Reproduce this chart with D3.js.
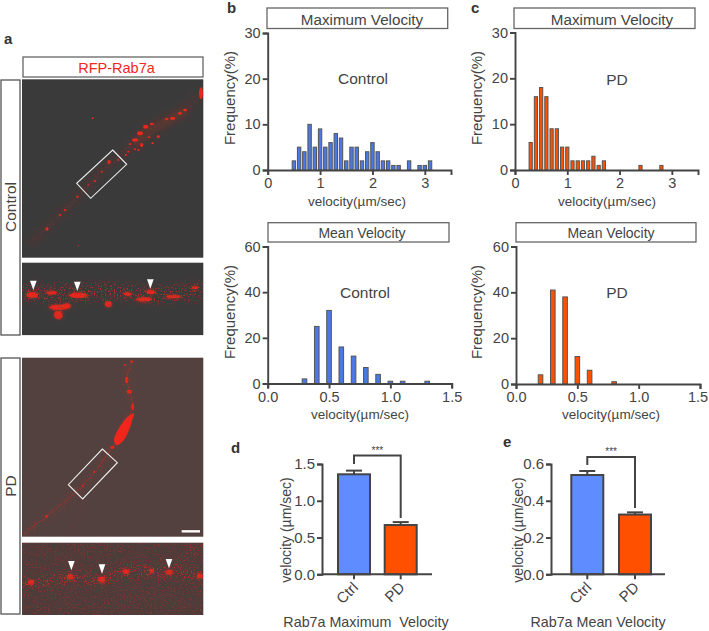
<!DOCTYPE html>
<html><head><meta charset="utf-8">
<script src="https://cdn.jsdelivr.net/npm/d3@7"></script>
<style>
html,body{margin:0;padding:0;background:#fff}
svg{display:block}
text{font-family:"Liberation Sans",Arial,sans-serif;fill:#444;white-space:pre}
</style></head><body>
<svg id="c" width="709" height="631"></svg>
<script>
// histogram bins
const maxCtrlBins=[0.5,0.6,0.7,0.8,0.9,1.0,1.1,1.2,1.3,1.4,1.5,1.6,1.7,1.8,1.9,2.0,2.1,2.2,2.3,2.4,2.5,2.7,2.9,3.0,3.1];
const maxCtrlFreq=[2,5,4,10,5,9,5,6,8,7,2,5,5,2,4,6,4,2,2,1,1,2,1,1,2];
const maxPdBins=[0.3,0.4,0.5,0.6,0.7,0.8,0.9,1.0,1.1,1.2,1.3,1.4,1.5,1.6,1.7,2.4,2.8];
const maxPdFreq=[6,16,18,16,9,9,5,5,2,2,2,2,3,1,2,1,1];
const meanCtrlBins=[0.3,0.4,0.5,0.6,0.7,0.8,0.9,1.0,1.1,1.3];
const meanCtrlFreq=[2,25,32,16,12,7,4,1,1,1];
const meanPdBins=[0.2,0.3,0.4,0.5,0.6,0.8];
const meanPdFreq=[4,41,38,12,6,1];
// summary bars
const groups=["Ctrl","PD"];
const maxMeans=[1.36,0.67];
const maxErrs=[0.05,0.04];
const meanMeans=[0.54,0.325];
const meanErrs=[0.022,0.012];
// tick labels
const maxXTicks=[0,1,2,3];
const maxYTicks=[0,10,20,30];
const meanXTicks=[0,0.5,1.0,1.5];
const meanYTicks=[0,20,40,60];
// micrograph features, in 3x crop units of the panel column: [x,y,rx,ry]
const ctrlPuncta=[[603,220,6,18],[555,270,6,4],[540,280,6,4],[518,295,8,5],[500,297,5,4],[455,312,6,4],[437,320,8,6],[420,340,9,6],[405,360,9,5],[390,372,4,3],[475,350,5,4],[447,352,4,3],[458,370,4,3],[425,375,5,6],[415,390,4,3],[405,388,3,3],[385,395,3,3],[378,405,3,3],[355,420,3,3],[327,426,5,6],[305,455,3,3],[285,483,4,3],[265,495,3,2],[232,530,4,3],[195,570,4,3],[180,585,4,3],[141,627,5,5],[278,295,3,3],[235,677,2,2]];
const ctrlProcess=[[600,215],[560,265],[500,300],[440,330],[390,385],[330,430],[270,490],[200,565],[140,625],[90,670]];
const ctrlCloud=[[560,270],[500,305],[440,340],[400,375]];
const ctrlDetail=[[97,825,18,9],[155,818,16,5],[235,826,28,8],[175,862,28,8],[175,885,13,12],[200,858,12,8],[325,852,10,9],[383,822,12,5],[432,838,25,6],[452,816,13,6],[585,803,10,4],[520,830,22,5]];
const ctrlBand=[[66,815],[200,820],[350,815],[460,825],[610,810]];
const ctrlArrows=[[100,782],[232,785],[451,778]];
const ctrlBox=[[338,390],[380,433],[272,535],[230,490]];
const pdProcess=[[397,60],[380,120],[390,160],[398,200],[380,250],[360,290],[337,322],[285,395],[245,440],[200,480],[140,530],[105,555],[70,585]];
const pdBranch=[[250,480],[225,550],[215,590]];
const pdBody=[[402,220],[385,228],[355,268],[342,300],[350,316],[370,302],[387,270],[397,240]];
const pdPuncta=[[380,120,5,10],[388,155,8,6],[398,200,4,10],[337,322,6,5],[140,529,4,4],[283,396,3,3],[248,438,3,3],[300,378,2,2],[395,65,4,4],[375,75,3,3]];
const pdDetail=[[93,727,9,8],[211,710,9,8],[305,719,10,9],[378,695,9,7],[455,692,8,6],[508,697,10,7],[600,708,9,7]];
const pdBand=[[66,745],[95,728],[150,725],[210,712],[305,718],[380,695],[455,692],[510,695],[610,708]];
const pdBand2=[[510,695],[560,645],[610,615]];
const pdArrows=[[214,663],[306,673],[507,657]];
const pdBox=[[307,327],[352,368],[248,477],[205,434]];
const pdScaleBar=[[545,574],[600,574]];

const INK="#444", BLUE="#4a79e6", ORANGE="#ff5000";
const svg=d3.select("#c");
const defs=svg.append("defs");
function region(id){return defs.append("filter").attr("id",id).attr("filterUnits","userSpaceOnUse").attr("x",0).attr("y",0).attr("width",709).attr("height",631);}
function blur(id,s){region(id).append("feGaussianBlur").attr("stdDeviation",s);}
blur("b1",0.7);blur("b3",3);
// grainy filter: blurred shape cut through a thresholded noise field
function grain(id,s,offset){
  const f=region(id);
  f.append("feGaussianBlur").attr("in","SourceGraphic").attr("stdDeviation",s).attr("result","g");
  f.append("feTurbulence").attr("type","fractalNoise").attr("baseFrequency",0.7).attr("numOctaves",2).attr("seed",4).attr("result","n");
  f.append("feColorMatrix").attr("in","n").attr("type","matrix").attr("values",`0 0 0 0 0 0 0 0 0 0 0 0 0 0 0 0 0 0 8 ${offset}`).attr("result","m");
  f.append("feComposite").attr("in","g").attr("in2","m").attr("operator","in");
}
grain("sparse",3,-4.4);grain("dense",1.5,-2.8);grain("flat",0,-4.6);

function box(x0,y0,x1,y1,stroke){svg.append("rect").attr("x",x0).attr("y",y0).attr("width",x1-x0).attr("height",y1-y0).attr("fill","#fff").attr("stroke",stroke||"#666").attr("stroke-width",1.3);}
function label(t,x,y,size,o={}){
  const s=svg.append("text").attr("x",x).attr("y",y).attr("font-size",size).attr("text-anchor",o.anchor||"middle").text(t);
  if(o.bold)s.attr("font-weight","bold").style("fill","#333");
  if(o.rot!=null)s.attr("transform",`rotate(${o.rot} ${x} ${y})`);
  if(o.fill)s.style("fill",o.fill);
  return s;
}
function styleAxis(g,w,fs){
  g.selectAll("path").attr("stroke",INK).attr("stroke-width",w).attr("fill","none");
  g.selectAll("line").attr("stroke",INK).attr("stroke-width",w);
  g.selectAll("text").attr("font-size",fs).style("fill",INK).attr("font-family",'"Liberation Sans",Arial,sans-serif');
}
function hist(cfg){
  const x=d3.scaleLinear().domain(cfg.xd).range(cfg.xr);
  const y=d3.scaleLinear().domain(cfg.yd).range(cfg.yr);
  const g=svg.append("g");
  g.selectAll("rect").data(cfg.bins).join("rect")
    .attr("x",d=>x(d)-cfg.bw/2).attr("width",cfg.bw)
    .attr("y",(d,i)=>y(cfg.freq[i])).attr("height",(d,i)=>y(0)-y(cfg.freq[i]))
    .attr("fill",cfg.color).attr("stroke","#555").attr("stroke-width",1);
  const ax=svg.append("g").attr("transform",`translate(0,${cfg.yr[0]})`)
    .call(d3.axisBottom(x).tickValues(cfg.xt).tickSizeOuter(0).tickSize(5).tickPadding(3).tickFormat(cfg.xf));
  styleAxis(ax,1.9,14.5);
  if(cfg.lastDx)ax.selectAll("text").filter((d,i,n)=>i===n.length-1).attr("dx",cfg.lastDx);
  const ay=svg.append("g").attr("transform",`translate(${cfg.xr[0]},0)`)
    .call(d3.axisLeft(y).tickValues(cfg.yt).tickSizeOuter(0).tickSize(5).tickPadding(2));
  styleAxis(ay,1.9,14.5);
}
const f0=d3.format("d"),f1=d3.format(".1f");
hist({bins:maxCtrlBins,freq:maxCtrlFreq,xd:[0,3.5],xr:[267.7,451],yd:[0,30],yr:[170,33],bw:3.4,color:BLUE,xt:maxXTicks,yt:maxYTicks,xf:f0});
hist({bins:maxPdBins,freq:maxPdFreq,xd:[0,3.5],xr:[515,698],yd:[0,30],yr:[170,32.5],bw:3.2,color:ORANGE,xt:maxXTicks,yt:maxYTicks,xf:f0});
hist({bins:meanCtrlBins,freq:meanCtrlFreq,xd:[0,1.5],xr:[267.7,451.7],yd:[0,60],yr:[383.5,246.5],bw:4.6,color:BLUE,xt:meanXTicks,yt:meanYTicks,xf:f1});
hist({bins:meanPdBins,freq:meanPdFreq,xd:[0,1.5],xr:[516,700],yd:[0,60],yr:[384,246.5],bw:4.6,color:ORANGE,xt:meanXTicks,yt:meanYTicks,xf:f1,lastDx:-2.5});

// title boxes
box(267,8,447.7,28.5);label("Maximum Velocity",362,25,15.2);
box(514,8,695,28.5);label("Maximum Velocity",612,25,15.2);
box(268,222.7,449,242);label("Mean Velocity",362,237.5,14);
box(516,222.7,696,242);label("Mean Velocity",611,237.5,14);
label("Control",363,84,15.5);label("PD",617,85,15.5);
label("Control",365,298,15.5);label("PD",617,298,15.5);
[[235,98],[482,98],[235,312],[482,312]].forEach(p=>label("Frequency(%)",p[0],p[1],15,{rot:-90}));
label("velocity(µm/sec)",357,206,13.5);label("velocity(µm/sec)",607,206,13.5);
label("velocity(µm/sec)",360,419,13.5);label("velocity(µm/sec)",611,419,13.5);

function summary(cfg){
  const x=d3.scalePoint().domain(groups).range(cfg.cx);
  const y=d3.scaleLinear().domain(cfg.yd).range([574.3,464]);
  const w=32;
  const g=svg.append("g");
  const colors=["#5f8cff",ORANGE];
  groups.forEach((k,i)=>{
    g.append("line").attr("x1",x(k)).attr("x2",x(k)).attr("y1",y(cfg.m[i])).attr("y2",y(cfg.m[i]+cfg.e[i])).attr("stroke",INK).attr("stroke-width",2);
    g.append("line").attr("x1",x(k)-8).attr("x2",x(k)+8).attr("y1",y(cfg.m[i]+cfg.e[i])).attr("y2",y(cfg.m[i]+cfg.e[i])).attr("stroke",INK).attr("stroke-width",2);
    g.append("rect").attr("x",x(k)-w/2).attr("width",w).attr("y",y(cfg.m[i])).attr("height",y(0)-y(cfg.m[i])).attr("fill",colors[i]).attr("stroke",INK).attr("stroke-width",2);
  });
  const ay=svg.append("g").attr("transform",`translate(${cfg.ax},0)`)
    .call(d3.axisLeft(y).tickValues(cfg.yt).tickSizeOuter(0).tickSize(5).tickPadding(2).tickFormat(f1));
  styleAxis(ay,2,15);
  const xs=svg.append("g");
  xs.append("line").attr("x1",cfg.ax).attr("x2",cfg.end).attr("y1",y(0)).attr("y2",y(0)).attr("stroke",INK).attr("stroke-width",2);
  groups.forEach(k=>{
    xs.append("line").attr("x1",x(k)).attr("x2",x(k)).attr("y1",y(0)).attr("y2",y(0)+5).attr("stroke",INK).attr("stroke-width",2);
    label(k,x(k)+5,y(0)+14,15,{anchor:"end",rot:-45});
  });
  const br=d3.line();
  svg.append("path").attr("d",br([[x("Ctrl"),cfg.b[0]],[x("Ctrl"),cfg.b[1]],[x("PD"),cfg.b[1]],[x("PD"),cfg.b[2]]])).attr("fill","none").attr("stroke",INK).attr("stroke-width",2);
  label("***",(x("Ctrl")+x("PD"))/2,cfg.b[1]-2,10);
  label(cfg.title,cfg.tx,626.5,14.3);
  label("velocity (µm/sec)",cfg.lx,530,14,{rot:-90});
}
summary({cx:[354,400.7],yd:[0,1.5],m:maxMeans,e:maxErrs,ax:322,end:432,yt:[0,0.5,1.0,1.5],b:[464,455.5,518],title:"Rab7a Maximum  Velocity",tx:366,lx:290.5});
summary({cx:[587.3,635],yd:[0,0.6],m:meanMeans,e:meanErrs,ax:551,end:665,yt:[0,0.2,0.4,0.6],b:[465,457,508],title:"Rab7a Mean Velocity",tx:598,lx:523});

// panel letters
label("a",4,44,15,{anchor:"start",bold:true});
label("b",227,13,15,{anchor:"start",bold:true});
label("c",471,13,15,{anchor:"start",bold:true});
label("d",231,453,15,{anchor:"start",bold:true});
label("e",503,447,15,{anchor:"start",bold:true});

// panel a
const sx=d3.scaleLinear().domain([0,660]).range([0,220]);
const sy1=d3.scaleLinear().domain([0,960]).range([20,340]);
const sy2=d3.scaleLinear().domain([0,873]).range([340,631]);
box(23,57,203,77);label("RFP-Rab7a",116.5,72.5,14.5,{fill:"#f0281e"});
box(1,80,20,335,"#555");box(1,358,20,614,"#555");
label("Control",16,207,15.5,{rot:-90});label("PD",16,486,15.5,{rot:-90});

function clip(id,x,y,w,h){defs.append("clipPath").attr("id",id).append("rect").attr("x",x).attr("y",y).attr("width",w).attr("height",h);}
function panel(id,x,y,w,h,bg){
  clip(id,x,y,w,h);
  svg.append("rect").attr("x",x).attr("y",y).attr("width",w).attr("height",h).attr("fill",bg);
  return svg.append("g").attr("clip-path",`url(#${id})`);
}
const RED="#f0261a";
function blobs(g,arr,sy,op,flt){
  g.append("g").attr("filter",flt).selectAll("ellipse").data(arr).join("ellipse")
    .attr("cx",d=>sx(d[0])).attr("cy",d=>sy(d[1])).attr("rx",d=>sx(d[2])).attr("ry",d=>sy(d[3])-sy(0)).attr("fill",RED).attr("opacity",op);
}
function band(g,pts,sy,w,op,flt){
  const ln=d3.line().x(d=>sx(d[0])).y(d=>sy(d[1])).curve(d3.curveCatmullRom);
  g.append("path").attr("d",ln(pts)).attr("fill","none").attr("stroke",RED).attr("stroke-width",w).attr("stroke-opacity",op).attr("filter",flt);
}
function outline(pts,sy){
  svg.append("path").attr("d",d3.line().x(d=>sx(d[0])).y(d=>sy(d[1])).curve(d3.curveLinearClosed)(pts)).attr("fill","none").attr("stroke","#eee").attr("stroke-width",1.1);
}
function arrows(pts,sy){
  svg.append("g").selectAll("path").data(pts).join("path")
    .attr("d",d=>d3.line()([[sx(d[0]-10),sy(d[1])],[sx(d[0]+10),sy(d[1])],[sx(d[0]),sy(d[1]+28)]])+"Z").attr("fill","#fff");
}
// control main
let g=panel("p1",22,79.3,181.3,178.4,"#3b3a3a");
band(g,ctrlProcess,sy1,5,0.07,"url(#b3)");
band(g,ctrlCloud,sy1,10,0.12,"url(#b3)");
band(g,ctrlProcess,sy1,5,0.3,"url(#sparse)");
blobs(g,ctrlPuncta,sy1,0.95,"url(#b1)");
outline(ctrlBox,sy1);
// control detail
g=panel("p2",22,262.7,181.3,72.4,"#3b3a3a");
band(g,ctrlBand,sy1,18,0.6,"url(#sparse)");
blobs(g,ctrlDetail,sy1,0.75,"url(#b1)");
blobs(g,ctrlDetail,sy1,1,"url(#dense)");
arrows(ctrlArrows,sy1);
// PD main
g=panel("p3",22,357.7,181.3,179,"#53413f");
band(g,pdProcess,sy2,6,0.4,"url(#sparse)");
band(g,pdProcess,sy2,1.2,0.22,"url(#b1)");
band(g,pdBranch,sy2,3,0.3,"url(#sparse)");
g.append("path").attr("d",d3.line().x(d=>sx(d[0])).y(d=>sy2(d[1])).curve(d3.curveCatmullRomClosed)(pdBody)).attr("fill",RED).attr("filter","url(#b1)");
blobs(g,pdPuncta,sy2,0.9,"url(#b1)");
outline(pdBox,sy2);
svg.append("line").attr("x1",sx(pdScaleBar[0][0])).attr("x2",sx(pdScaleBar[1][0])).attr("y1",sy2(pdScaleBar[0][1])).attr("y2",sy2(pdScaleBar[1][1])).attr("stroke","#fff").attr("stroke-width",2.4);
// PD detail
g=panel("p4",22,542.7,181.3,72.3,"#4e3c3b");
g.append("rect").attr("x",22).attr("y",542.7).attr("width",181.3).attr("height",72.3).attr("fill",RED).attr("opacity",0.3).attr("filter","url(#flat)");
band(g,pdBand,sy2,9,0.75,"url(#sparse)");
band(g,pdBand2,sy2,6,0.4,"url(#sparse)");
blobs(g,pdDetail,sy2,0.7,"url(#b1)");
blobs(g,pdDetail,sy2,0.95,"url(#dense)");
arrows(pdArrows,sy2);
</script>
</body></html>
